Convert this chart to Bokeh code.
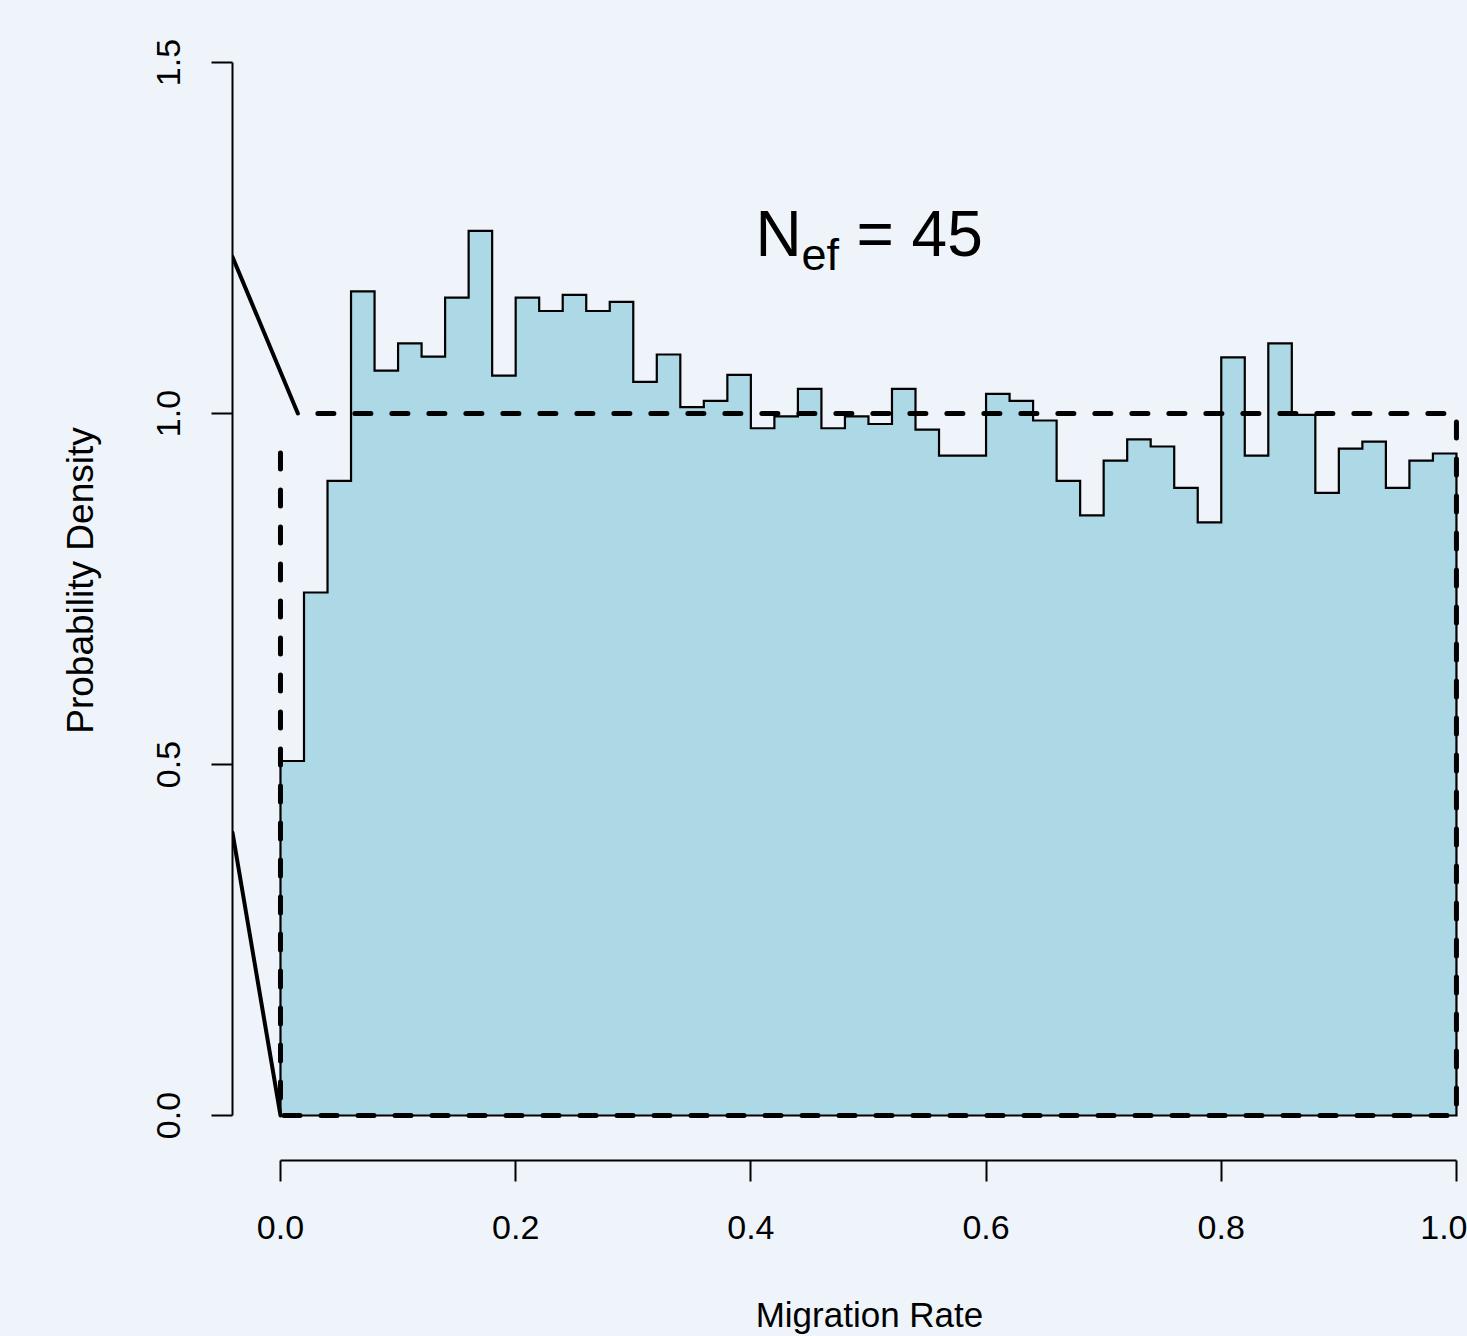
from bokeh.plotting import figure
from bokeh.models import Range1d, FixedTicker, PrintfTickFormatter
from bokeh.embed import file_html
from bokeh.resources import INLINE
from bokeh.core.properties import value

# ---------------- data ----------------
bin_width = 0.02
bin_left = [round(i * bin_width, 2) for i in range(50)]
density = [0.505, 0.745, 0.904, 1.174, 1.061, 1.100, 1.081, 1.165, 1.260, 1.054,
           1.165, 1.146, 1.169, 1.146, 1.159, 1.045, 1.084, 1.009, 1.018, 1.055,
           0.979, 0.996, 1.035, 0.979, 0.996, 0.985, 1.035, 0.977, 0.940, 0.940,
           1.028, 1.018, 0.990, 0.904, 0.855, 0.933, 0.963, 0.953, 0.894, 0.845,
           1.080, 0.940, 1.100, 0.998, 0.887, 0.950, 0.960, 0.894, 0.933, 0.943]

# uniform prior (dashed)
prior_x = [0.0148, 1.0, 1.0, 0.0, 0.0]
prior_y = [1.0, 1.0, 0.0, 0.0, 0.955]

# solid lines
line_a_x = [-0.0408, 0.0148]
line_a_y = [1.223, 1.0]
line_b_x = [-0.0408, 0.0]
line_b_y = [0.403, 0.0]

x_ticks = [0.0, 0.2, 0.4, 0.6, 0.8, 1.0]
y_ticks = [0.0, 0.5, 1.0, 1.5]

BG = "#eff4fa"
FONT = "Liberation Sans"
NBSP = "\u00a0"

p = figure(width=1467, height=1336, output_backend="svg", toolbar_location=None,
           x_range=Range1d(-0.0408, 1.0094), y_range=Range1d(-0.0641, 1.5883),
           min_border_left=232, min_border_right=0, min_border_top=0,
           min_border_bottom=176,
           background_fill_color=BG, border_fill_color=BG)
p.styles = {"background-color": BG}
p.outline_line_color = None
p.grid.visible = False

# histogram as a single step polygon
hx = [bin_left[0]]
hy = [0.0]
for left, d in zip(bin_left, density):
    hx += [left, left + bin_width]
    hy += [d, d]
hx.append(bin_left[-1] + bin_width)
hy.append(0.0)
p.patch(hx, hy, fill_color="#add8e6", line_color="black", line_width=2.2,
        line_join="miter")

# dashed prior
p.line(prior_x, prior_y, line_color="black", line_width=5, line_dash="16 21",
       line_dash_offset=17, line_cap="round", line_join="round")

# solid lines
p.line(line_a_x, line_a_y, line_color="black", line_width=4, line_cap="round")
p.line(line_b_x, line_b_y, line_color="black", line_width=4, line_cap="round")

# N_ef = 45
p.text(x=[0.5], y=[1.25], text=["N"], text_font=value(FONT), text_font_size="64px",
       text_align="left", text_baseline="alphabetic", x_offset=-113, y_offset=-4,
       text_color="black")
p.text(x=[0.5], y=[1.25], text=["ef"], text_font=value(FONT), text_font_size="45px",
       text_align="left", text_baseline="alphabetic", x_offset=-67, y_offset=17,
       text_color="black")
p.text(x=[0.5], y=[1.25], text=["= 45"], text_font=value(FONT), text_font_size="64px",
       text_align="left", text_baseline="alphabetic", x_offset=-12, y_offset=-4,
       text_color="black")

# axes
for ax in (p.xaxis[0], p.yaxis[0]):
    ax.axis_line_width = 2
    ax.major_tick_line_width = 2
    ax.major_tick_out = 21
    ax.major_tick_in = 0
    ax.minor_tick_out = 0
    ax.minor_tick_in = 0
    ax.major_label_text_font = FONT
    ax.major_label_text_font_size = "34px"
    ax.major_label_text_color = "black"
    ax.axis_line_color = "black"
    ax.major_tick_line_color = "black"
    ax.formatter = PrintfTickFormatter(format="%.1f")
    ax.axis_label_text_font = FONT
    ax.axis_label_text_font_style = "normal"
    ax.axis_label_text_color = "black"

p.xaxis.ticker = FixedTicker(ticks=x_ticks)
p.yaxis.ticker = FixedTicker(ticks=y_ticks)
p.xaxis.bounds = (0, 1)
p.yaxis.bounds = (0, 1.5)
p.xaxis.major_label_standoff = 34
p.yaxis.major_label_standoff = 31
p.yaxis.major_label_orientation = "vertical"

p.yaxis.axis_label = "Probability Density"
p.yaxis.axis_label_text_font_size = "37px"
p.yaxis.axis_label_standoff = 54

# R centres the x title on its (wider) plot region; pad to shift the centre
p.xaxis.axis_label = NBSP * 4 + "Migration Rate"
p.xaxis.axis_label_text_font_size = "35px"
p.xaxis.axis_label_standoff = 53

open("out.html", "w").write(file_html(p, INLINE))
